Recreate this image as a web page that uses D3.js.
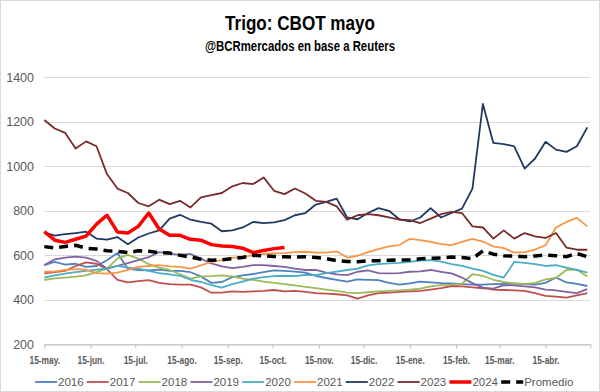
<!DOCTYPE html>
<html>
<head>
<meta charset="utf-8">
<script src="https://cdn.jsdelivr.net/npm/d3@7"></script>
<style>
body { margin: 0; background: #fff; }
</style>
</head>
<body>
<div id="chart"></div>
<script>
// fechas semanales (eje de dias, campaña mayo-mayo)
var fechas = ["2023-05-15","2023-05-22","2023-05-29","2023-06-05","2023-06-12","2023-06-19","2023-06-26",
  "2023-07-03","2023-07-10","2023-07-17","2023-07-24","2023-07-31","2023-08-07","2023-08-14","2023-08-21",
  "2023-08-28","2023-09-04","2023-09-11","2023-09-18","2023-09-25","2023-10-02","2023-10-09","2023-10-16",
  "2023-10-23","2023-10-30","2023-11-06","2023-11-13","2023-11-20","2023-11-27","2023-12-04","2023-12-11",
  "2023-12-18","2023-12-25","2024-01-01","2024-01-08","2024-01-15","2024-01-22","2024-01-29","2024-02-05",
  "2024-02-12","2024-02-19","2024-02-26","2024-03-04","2024-03-11","2024-03-18","2024-03-25","2024-04-01",
  "2024-04-08","2024-04-15","2024-04-22","2024-04-29","2024-05-06","2024-05-13"];

var s2016 = [556,570,558,562,548,552,578,610,540,534,532,536,530,530,524,505,476,480,502,510,516,524,532,530,527,522,508,498,490,482,492,490,488,476,468,474,482,478,475,474,470,468,468,470,472,474,470,468,476,500,478,472,462];
var s2017 = [519,524,530,552,568,562,538,490,478,484,488,476,470,468,468,456,432,432,438,436,438,440,444,438,440,436,430,428,425,420,405,420,430,432,436,438,440,446,452,462,460,456,452,446,444,442,440,430,418,414,410,420,430];
var s2018 = [489,496,500,504,510,524,540,585,602,585,560,545,534,515,495,505,506,510,505,495,490,482,476,470,465,458,452,446,440,432,430,434,438,440,442,446,450,460,466,468,472,515,508,490,480,474,470,476,492,498,535,535,505];
var s2019 = [556,582,590,594,590,575,540,552,565,578,592,614,608,602,606,585,564,550,542,548,556,556,552,548,540,534,534,522,514,511,526,532,520,519,520,526,528,534,526,519,500,475,455,450,466,465,460,456,446,442,436,430,448];
var s2020 = [500,510,518,524,530,536,540,552,545,540,530,520,514,508,490,480,466,455,470,482,495,502,506,508,506,512,511,520,527,534,540,555,560,564,566,571,576,578,572,560,552,540,530,512,500,570,566,560,552,556,545,535,522];
var s2021 = [526,528,534,538,535,520,518,522,535,548,552,556,550,548,540,555,570,578,588,594,600,606,609,610,614,616,612,612,618,590,598,614,628,640,646,674,668,660,650,646,660,674,662,640,632,612,614,626,645,725,750,768,730];
var s2022 = [703,688,695,700,706,675,670,682,650,680,698,712,765,782,760,750,742,708,712,725,750,745,748,758,780,790,828,840,855,770,762,790,812,800,762,752,770,812,770,790,810,900,1280,1105,1100,1090,990,1035,1110,1075,1065,1090,1175];
var s2023 = [1208,1170,1150,1080,1112,1090,965,900,880,835,820,850,830,845,815,860,870,880,910,925,920,950,890,875,900,878,845,840,820,760,780,785,780,770,760,758,745,765,785,795,790,730,725,675,712,675,700,685,678,700,635,625,625];
var s2024 = [706,668,658,672,686,740,780,705,700,730,790,718,690,690,672,668,648,642,640,632,612,622,630,635,
  null,null,null,null,null,null,null,null,null,null,null,null,null,null,null,null,null,null,null,null,null,null,null,null,null,null,null,null,null];
var promedio = [639,633,640,645,632,628,620,618,612,620,618,612,610,600,592,582,578,580,585,590,600,598,595,593,592,594,590,585,576,572,571,576,576,578,579,580,584,587,588,592,590,585,620,605,598,596,594,597,601,598,594,608,594];

var tickFechas = ["2023-05-15","2023-06-15","2023-07-15","2023-08-15","2023-09-15","2023-10-15",
  "2023-11-15","2023-12-15","2024-01-15","2024-02-15","2024-03-15","2024-04-15","2024-05-15"];
var tickLabels = ["15-may.","15-jun.","15-jul.","15-ago.","15-sep.","15-oct.",
  "15-nov.","15-dic.","15-ene.","15-feb.","15-mar.","15-abr.",""];
var yTicks = [200,400,600,800,1000,1200,1400];

var nombres = ["2016","2017","2018","2019","2020","2021","2022","2023","2024","Promedio"];
var valores = [s2016,s2017,s2018,s2019,s2020,s2021,s2022,s2023,s2024,promedio];
var colores = ["#4F81BD","#C0504D","#9BBB59","#8064A2","#4BACC6","#F79646","#203864","#772C2A","#FF0000","#000000"];

var parse = d3.timeParse("%Y-%m-%d");
var width = 600, height = 392;

var svg = d3.select("#chart")
    .append("svg")
    .attr("width", width)
    .attr("height", height)
    .style("font-family", "'Liberation Sans', Arial, sans-serif");

svg.append("rect")
    .attr("x", 0.5).attr("y", 0.5)
    .attr("width", width - 1).attr("height", height - 1)
    .attr("fill", "#fff")
    .attr("stroke", "#D9D9D9");

var x = d3.scaleTime()
    .domain([parse("2023-05-15"), parse("2024-05-15")])
    .range([44.3, 590.3]);

var y = d3.scaleLinear()
    .domain([200, 1400])
    .range([344.3, 77.3]);

// titulo (fuente condensada: se comprime con textLength)
svg.append("text")
    .attr("x", 300).attr("y", 30)
    .attr("text-anchor", "middle")
    .attr("textLength", 150)
    .attr("lengthAdjust", "spacingAndGlyphs")
    .style("font-weight", "bold")
    .style("font-size", "21px")
    .text("Trigo: CBOT mayo");

svg.append("text")
    .attr("x", 300).attr("y", 51)
    .attr("text-anchor", "middle")
    .attr("textLength", 190)
    .attr("lengthAdjust", "spacingAndGlyphs")
    .style("font-weight", "bold")
    .style("font-size", "14px")
    .text("@BCRmercados en base a Reuters");

// grilla
svg.append("g")
    .selectAll("line")
    .data(yTicks)
    .enter().append("line")
    .attr("x1", x.range()[0])
    .attr("x2", x.range()[1])
    .attr("y1", function(d) { return Math.round(y(d)) + 0.5; })
    .attr("y2", function(d) { return Math.round(y(d)) + 0.5; })
    .attr("stroke", "#D9D9D9")
    .attr("stroke-width", 1);

var yAxis = svg.append("g")
    .attr("transform", "translate(34,0)")
    .call(d3.axisLeft(y).tickValues(yTicks).tickFormat(d3.format("d")).tickSize(0).tickPadding(0));
yAxis.select(".domain").remove();
yAxis.selectAll("text")
    .attr("fill", "#595959")
    .style("font-size", "12.5px")
    .style("font-family", "'Liberation Sans', Arial, sans-serif");

var xAxis = svg.append("g")
    .attr("transform", "translate(0," + (Math.round(y(200)) + 0.5) + ")")
    .call(d3.axisBottom(x)
        .tickValues(tickFechas.map(parse))
        .tickFormat(function(d, i) { return tickLabels[i]; })
        .tickSize(4)
        .tickPadding(8)
        .tickSizeOuter(0));
xAxis.select(".domain").attr("stroke", "#BFBFBF");
xAxis.selectAll(".tick line").attr("stroke", "#BFBFBF");
xAxis.selectAll("text")
    .attr("fill", "#595959")
    .attr("transform", "scale(0.84,1)")
    .style("font-size", "10px")
    .style("font-weight", "bold")
    .style("font-family", "'Liberation Sans', Arial, sans-serif");

// series
var line = d3.line()
    .defined(function(d) { return d.v != null; })
    .x(function(d) { return x(d.fecha); })
    .y(function(d) { return y(d.v); });

nombres.forEach(function(nombre, k) {
    var puntos = fechas.map(function(f, i) { return { fecha: parse(f), v: valores[k][i] }; });
    var path = svg.append("path")
        .datum(puntos)
        .attr("fill", "none")
        .attr("stroke", colores[k])
        .attr("stroke-linejoin", "round")
        .attr("d", line);
    if (nombre == "2024") {
        path.attr("stroke-width", 3.5);
    } else if (nombre == "Promedio") {
        path.attr("stroke-width", 3.5).attr("stroke-dasharray", "9,6");
    } else {
        path.attr("stroke-width", 1.8);
    }
});

// leyenda
var leyenda = svg.append("g")
    .selectAll("g")
    .data(nombres)
    .enter().append("g")
    .attr("transform", function(d, i) { return "translate(" + (35 + i * 51.8) + ",382)"; });

leyenda.append("line")
    .attr("x1", 0).attr("x2", 22)
    .attr("y1", 0).attr("y2", 0)
    .attr("stroke", function(d, i) { return colores[i]; })
    .attr("stroke-width", function(d) { return (d == "2024" || d == "Promedio") ? 3.5 : 1.8; })
    .attr("stroke-dasharray", function(d) { return d == "Promedio" ? "9,6" : null; });

leyenda.append("text")
    .attr("x", 23).attr("y", 4)
    .attr("fill", "#595959")
    .style("font-size", "11.5px")
    .text(function(d) { return d; });
</script>
</body>
</html>
